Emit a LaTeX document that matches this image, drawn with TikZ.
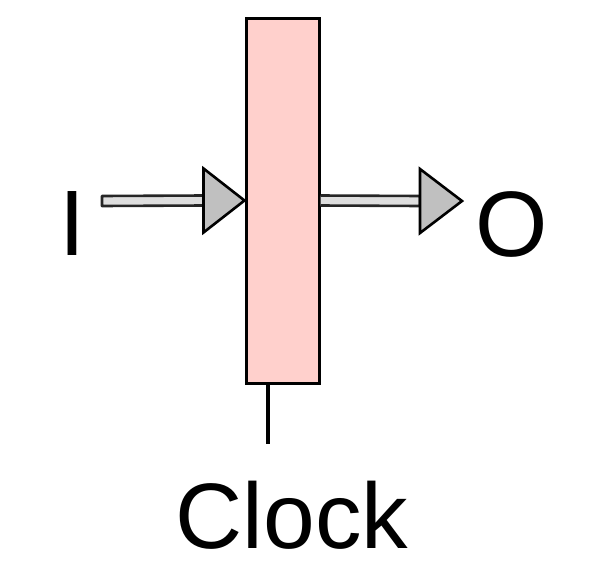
\documentclass[tikz,border=0pt]{standalone}
\usepackage{fontspec}
\setmainfont{Liberation Sans}
\usetikzlibrary{calc}
\definecolor{boxpink}{RGB}{255,208,204}
\definecolor{shaftgray}{RGB}{222,222,222}
\definecolor{headgray}{RGB}{192,192,192}
\tikzset{
  lbl/.style={inner sep=0pt, anchor=base, font=\fontsize{93}{93}\selectfont},
  regbox/.style={draw=black, line width=3pt, fill=boxpink, minimum width=73pt, minimum height=365pt, inner sep=0pt},
  shaft/.style={draw=black!85, line width=2.6pt, fill=shaftgray, line join=round},
  head/.style={draw=black, line width=2.6pt, fill=headgray, line join=miter},
}
\begin{document}
\begin{tikzpicture}[x=1pt,y=-1pt]
\useasboundingbox (0,0) rectangle (604,570);
\node[regbox] (box) at (282.5,200.5) {};
\node[lbl] (in) at (72,255) {I};
\node[lbl] (out) at (512,256) {O};
\node[lbl] (clock) at (292,548) {Clock};
% input arrow
\coordinate (itip) at (box.west);
\coordinate (istart) at (102,201);
\draw[shaft] (istart |- 0,196) -- ($(itip)+(-41,-5)$) -- ($(itip)+(-41,5)$) -- (istart |- 0,206) -- cycle;
\draw[head] ($(itip)+(-41,-32)$) -- (itip) -- ($(itip)+(-41,32)$) -- cycle;
% output arrow
\coordinate (otip) at (462,201);
\draw[shaft] ($(box.east)+(0,-5)$) -- ($(otip)+(-42,-5)$) -- ($(otip)+(-42,5)$) -- ($(box.east)+(0,5)$);
\draw[head] ($(otip)+(-42,-32)$) -- (otip) -- ($(otip)+(-42,32)$) -- cycle;
% clock line
\coordinate (clk) at (268,444);
\draw[line width=4pt] (clk |- box.south) -- (clk);
\end{tikzpicture}
\end{document}
